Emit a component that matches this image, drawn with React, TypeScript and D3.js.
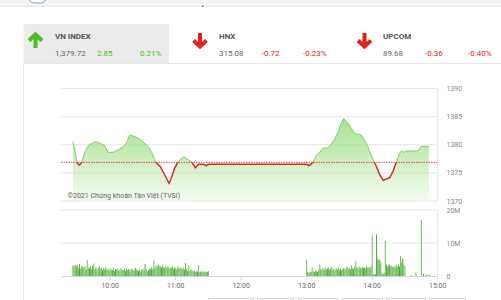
import React from "react";
import * as d3 from "d3";

// ---------- data ----------
const refValue = 1376.87;

const priceTimes = ["09:26","09:30","09:32","09:34","09:37","09:40","09:46","09:51","09:55","09:58","10:03","10:09","10:14","10:18","10:21","10:26","10:30","10:35","10:38","10:42","10:46","10:50","10:54","10:56","10:59","11:02","11:07","11:12","11:15","11:18","11:21","11:25","11:28","11:30","13:00","13:02","13:06","13:09","13:12","13:15","13:19","13:22","13:26","13:29","13:31","13:34","13:36","13:38","13:41","13:44","13:47","13:50","13:53","13:56","13:59","14:02","14:04","14:07","14:10","14:13","14:16","14:19","14:22","14:25","14:27","14:29","14:32","14:42","14:45","14:52"];
const priceValues = [1380.54,1376.70,1376.40,1376.88,1378.76,1379.83,1380.54,1380.26,1379.83,1378.66,1378.66,1379.24,1379.95,1381.73,1381.56,1381.15,1380.54,1379.65,1378.66,1376.88,1376.10,1374.62,1373.14,1374.03,1375.81,1376.88,1377.87,1377.29,1376.88,1375.92,1376.52,1376.52,1376.27,1376.52,1376.55,1376.27,1376.88,1378.18,1378.66,1379.37,1379.47,1379.95,1381.15,1382.32,1383.63,1384.70,1384.10,1383.81,1382.92,1382.03,1381.86,1381.73,1380.84,1379.65,1378.18,1376.88,1376.10,1374.62,1373.68,1373.91,1374.14,1375.21,1376.88,1378.48,1378.94,1378.66,1378.89,1378.89,1379.72,1379.72];

const morningStart = "09:26";
const morningVolume = [
  3.2, 2.9, 3.4, 3.0, 3.3, 2.5, 3.5, 2.2, 3.1, 2.7,
  2.4, 3.0, 1.9, 4.8, 2.6, 2.3, 3.0, 2.1, 2.9, 3.8,
  2.0, 2.6, 1.8, 2.4, 2.9, 2.2, 2.5, 1.7, 2.3, 2.0,
  2.6, 1.9, 2.2, 1.6, 2.4, 2.0, 1.8, 2.5, 1.5, 2.1,
  1.9, 2.3, 1.6, 2.0, 2.4, 1.7, 1.9, 2.2, 1.5, 2.3,
  1.8, 2.1, 1.4, 1.9, 2.2, 1.6, 1.8, 2.4, 2.0, 1.7,
  1.5, 2.0, 1.3, 1.9, 2.2, 1.6, 3.6, 2.1, 1.4, 1.8,
  2.3, 2.0, 2.6, 2.1, 4.7, 2.4, 3.2, 2.8, 3.4, 2.9,
  3.0, 2.6, 3.3, 2.7, 2.4, 3.1, 2.5, 2.9, 2.2, 2.8,
  2.4, 3.0, 2.1, 2.6, 2.3, 2.0, 2.8, 2.2, 2.5, 2.4,
  1.9, 2.6, 2.0, 4.0, 2.2, 1.6, 3.3, 1.5, 2.0, 1.8,
  1.4, 1.6, 1.2, 1.5, 1.3, 3.3, 1.1, 1.4, 1.2, 1.5,
  1.3, 1.1, 1.4, 1.2, 1.5,
];

const afternoonStart = "13:00";
const afternoonVolume = [
  4.8, 1.1, 1.0, 1.3, 1.2, 2.5, 1.4, 1.2, 1.6, 1.5,
  1.3, 1.8, 3.5, 2.1, 1.7, 2.4, 2.0, 2.6, 1.9, 2.3,
  2.5, 1.8, 2.2, 2.7, 1.9, 2.1, 1.6, 2.4, 2.0, 2.6,
  1.8, 2.2, 1.7, 2.0, 2.4, 1.9, 2.3, 2.8, 2.1, 2.5,
  2.0, 3.3, 2.4, 2.1, 2.7, 4.5, 2.6, 2.3, 2.9, 2.5,
  2.2, 2.8, 2.4, 2.6, 2.3, 2.9, 2.5, 2.7, 2.4, 3.0,
  12.4, 0.5, 0.4, 0.6, 12.6, 5.3, 4.8, 5.0, 3.9, 0.8,
  0.6, 1.0, 10.7, 3.4, 2.8, 3.1, 3.5, 2.9, 3.2, 2.7,
  3.0, 2.6, 3.3, 2.8, 3.5, 2.9, 6.0, 4.3, 5.2, 3.4,
  2.9,
];

const lateTimes = ["14:36", "14:40", "14:45", "14:47", "14:49", "14:50", "14:52"];
const lateVolume = [0.2, 1.1, 17.0, 0.6, 0.3, 0.5, 0.4];

const priceTicks = [1370, 1375, 1380, 1385, 1390];
const volumeTicks = [0, 10, 20];
const volumeTickLabels = ["0", "10M", "20M"];
const timeTicks = ["10:00", "11:00", "12:00", "13:00", "14:00", "15:00"];

const indices = [
  { name: "VN INDEX", value: "1,379.72", change: "2.85", pct: "0.21%", up: true },
  { name: "HNX", value: "315.08", change: "-0.72", pct: "-0.23%", up: false },
  { name: "UPCOM", value: "89.68", change: "-0.36", pct: "-0.40%", up: false },
];

// ---------- helpers ----------
const toMin = (s: string) => {
  const [h, m] = s.split(":").map(Number);
  return h * 60 + m;
};

const FONT = "Roboto, 'Noto Sans', sans-serif";
const GREEN = "#49bf1f";
const RED = "#e0231b";

function Arrow({ cx, top, up, color }: { cx: number; top: number; up: boolean; color: string }) {
  const h = 15;
  const d = up
    ? `M${cx - 6.5},${top + 7.5} L${cx},${top + 1.5} L${cx + 6.5},${top + 7.5} M${cx},${top + 2.5} L${cx},${top + h}`
    : `M${cx - 6.5},${top + h - 7.5} L${cx},${top + h - 1.5} L${cx + 6.5},${top + h - 7.5} M${cx},${top + h - 2.5} L${cx},${top}`;
  return <path d={d} fill="none" stroke={color} strokeWidth={4} strokeLinejoin="miter" />;
}

export default function App() {
  const W = 501;
  const H = 300;
  const left = 61;
  const right = 437.7;

  const x = d3.scaleLinear().domain([toMin("09:15"), toMin("15:00")]).range([left, right]);
  const yP = d3.scaleLinear().domain([1370, 1390]).range([201, 88.5]);
  const yV = d3.scaleLinear().domain([0, 20]).range([276, 210]);

  const pts = priceTimes.map((t, i) => ({ t: toMin(t), v: priceValues[i] }));
  const line = d3.line<{ t: number; v: number }>().x((d) => x(d.t)).y((d) => yP(d.v));
  const area = d3
    .area<{ t: number; v: number }>()
    .x((d) => x(d.t))
    .y0(yP(1370))
    .y1((d) => yP(d.v));
  const yRef = yP(refValue);

  const vols: { t: number; v: number }[] = [];
  const ms = toMin(morningStart);
  morningVolume.forEach((v, i) => vols.push({ t: ms + i, v }));
  const as = toMin(afternoonStart);
  afternoonVolume.forEach((v, i) => vols.push({ t: as + i, v }));
  lateTimes.forEach((t, i) => vols.push({ t: toMin(t), v: lateVolume[i] }));

  const headerX = [55, 219, 383];
  const arrowX = [35.5, 200, 364.5];
  const changeX = [97, 261.7, 425];
  const pctX = [140, 303, 468];

  return (
    <svg width={W} height={H} style={{ position: "absolute", left: 0, top: 0, background: "#fff" }} fontFamily={FONT}>
      <defs>
        <linearGradient id="areaGrad" x1="0" y1={yP(1390)} x2="0" y2={yP(1370)} gradientUnits="userSpaceOnUse">
          <stop offset="0%" stopColor="#86d468" stopOpacity={0.95} />
          <stop offset="55%" stopColor="#a9e292" stopOpacity={0.7} />
          <stop offset="100%" stopColor="#d8f2cc" stopOpacity={0.35} />
        </linearGradient>
        <clipPath id="aboveRef">
          <rect x={left} y={0} width={right - left} height={yRef} />
        </clipPath>
        <clipPath id="belowRef">
          <rect x={left} y={yRef} width={right - left} height={300} />
        </clipPath>
      </defs>

      {/* top strip */}
      <rect x={0} y={0} width={W} height={4} fill="#f3f3f3" />
      <rect x={28.5} y={-10} width={18} height={13} rx={6} fill="#fff" stroke="#7d9ed8" strokeWidth={1} />
      <line x1={0} x2={W} y1={6} y2={6} stroke="#e6e6e6" strokeWidth={1.5} />
      <rect x={202} y={5.5} width={1.5} height={1.5} fill="#e53935" />

      {/* header */}
      <rect x={23.5} y={24} width={145.5} height={39.5} fill="#ebebeb" />
      <line x1={23.5} x2={W} y1={63.5} y2={63.5} stroke="#e6e6e6" strokeWidth={1} />
      <line x1={23.5} x2={23.5} y1={63.5} y2={H} stroke="#e6e6e6" strokeWidth={1} />
      {indices.map((d, i) => (
        <g key={d.name}>
          <Arrow cx={arrowX[i]} top={33} up={d.up} color={d.up ? GREEN : RED} />
          <text x={headerX[i]} y={39} fontSize={8} fontWeight="bold" fill="#555">
            {d.name}
          </text>
          <text x={headerX[i]} y={56} fontSize={8} fill="#666">
            {d.value}
          </text>
          <text x={changeX[i]} y={56} fontSize={8} fill={d.up ? GREEN : RED}>
            {d.change}
          </text>
          <text x={pctX[i]} y={56} fontSize={8} fill={d.up ? GREEN : RED}>
            {d.pct}
          </text>
        </g>
      ))}

      {/* price grid */}
      {priceTicks.map((v) => (
        <g key={v}>
          <line x1={left} x2={right} y1={yP(v)} y2={yP(v)} stroke="#e6e6e6" strokeWidth={1} />
          <text x={446.5} y={yP(v) + 2.5} fontSize={7} fill="#888">
            {v}
          </text>
        </g>
      ))}
      <line x1={right} x2={right} y1={yP(1390)} y2={yP(1370)} stroke="#dfe5ec" strokeWidth={1} />

      {/* price area & line */}
      <path d={area(pts) || ""} fill="url(#areaGrad)" />
      <line x1={left} x2={right} y1={yRef} y2={yRef} stroke={RED} strokeWidth={0.8} strokeDasharray="1.5,1" />
      <path d={line(pts) || ""} fill="none" stroke="#7fce5f" strokeWidth={1} clipPath="url(#aboveRef)" />
      <path d={line(pts) || ""} fill="none" stroke="#d42a1f" strokeWidth={1.5} clipPath="url(#belowRef)" />

      <text x={67.5} y={198} fontSize={7} fill="#666">
        ©2021 Chứng khoán Tân Việt (TVSI)
      </text>

      {/* volume grid */}
      {volumeTicks.map((v, i) => (
        <g key={v}>
          {v > 0 && <line x1={left} x2={right} y1={yV(v)} y2={yV(v)} stroke="#e6e6e6" strokeWidth={1} />}
          <text x={446.5} y={yV(v) + 2.5} fontSize={7} fill="#888">
            {volumeTickLabels[i]}
          </text>
        </g>
      ))}
      <line x1={right} x2={right} y1={yV(20)} y2={yV(0)} stroke="#dfe5ec" strokeWidth={1} />

      {/* volume bars */}
      {vols.map((d, i) => (
        <rect
          key={i}
          x={x(d.t) - 0.5}
          y={yV(d.v)}
          width={1}
          height={yV(0) - yV(d.v)}
          fill={i % 3 === 0 ? "#4e9f3d" : "#6cbf55"}
        />
      ))}

      {/* x axis */}
      <line x1={left} x2={right} y1={yV(0) + 0.5} y2={yV(0) + 0.5} stroke="#ccd6eb" strokeWidth={1} />
      {timeTicks.map((t) => (
        <g key={t}>
          <line x1={x(toMin(t))} x2={x(toMin(t))} y1={yV(0)} y2={yV(0) + 4} stroke="#ccd6eb" strokeWidth={1} />
          <text x={x(toMin(t))} y={287.5} fontSize={7} fill="#666" textAnchor="middle">
            {t}
          </text>
        </g>
      ))}

      {/* bottom buttons (cut off) */}
      {[
        [208, 45],
        [257, 36],
        [298, 39],
        [342, 40],
        [386, 39],
        [429, 36],
      ].map(([bx, bw], i) => (
        <rect key={i} x={bx + 0.5} y={298.5} width={bw} height={10} fill="#fafafa" stroke="#d9d9d9" strokeWidth={1} />
      ))}
    </svg>
  );
}
